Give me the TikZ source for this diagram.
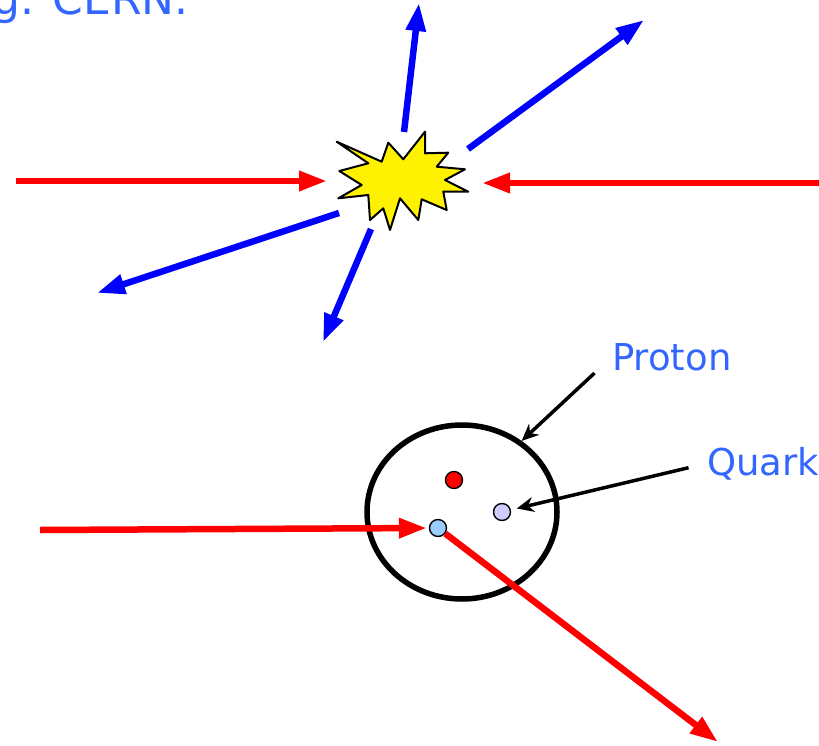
\documentclass[tikz,border=0pt]{standalone}
\usepackage{fontspec}
\newfontfamily\slidefont{DejaVu Sans}
\usetikzlibrary{arrows.meta,shapes.geometric}
\definecolor{slideblue}{RGB}{51,102,255}
\definecolor{quarklilac}{RGB}{204,204,255}
\definecolor{quarkblue}{RGB}{153,204,255}
\begin{document}
\begin{tikzpicture}[x=1pt, y=-1pt, line join=round,
		beam/.style={red, line width=6.5pt, -{Triangle[length=28pt,width=19pt]}},
		jet/.style={blue, line width=6.5pt, -{Triangle[length=28pt,width=19pt]}},
		pointer/.style={black, line width=3.5pt, -{Stealth[length=17pt,width=15pt]}},
		quark/.style={circle, draw, line width=1.4pt, inner sep=0pt, minimum size=17pt},
		caption/.style={font=\slidefont\fontsize{37}{44}\selectfont, text=slideblue, inner sep=0pt}]
		\useasboundingbox (0,0) rectangle (819,746);
		\clip (0,0) rectangle (819,746);
		\node[caption, font=\slidefont\fontsize{44}{52}\selectfont, anchor=base east] (title) at (189,15) {g. CERN.};
		% collision
		\coordinate (bang) at (403,181);
		\filldraw[fill=yellow, line width=2pt] (336.7,141.7) -- (381.7,161.7) -- (388.3,142.7) -- (403.3,159.3)
			-- (425,131.7) -- (425,153.3) -- (448.3,152.7) -- (436.7,166.7) -- (465,169.3) -- (445,180)
			-- (468.3,191.7) -- (443.3,191.7) -- (446.7,210) -- (421.7,199.3) -- (418.3,220) -- (400,198.3)
			-- (390,230) -- (383.3,208.3) -- (370,220) -- (368.3,195) -- (338.3,198.3) -- (361.7,185)
			-- (339.3,171) -- (368.3,163.3) -- cycle;
		\coordinate (inL) at (16,181);
		\coordinate (inR) at (819,183);
		\draw[beam, shorten >=76pt] (inL) -- (bang |- inL);
		\draw[beam] (inR) -- (482,183);
		\coordinate (j1s) at (404,132); \coordinate (j1e) at (419,3);
		\coordinate (j2s) at (468,149); \coordinate (j2e) at (644,20);
		\coordinate (j3s) at (339,213); \coordinate (j3e) at (97,293);
		\coordinate (j4s) at (371,229); \coordinate (j4e) at (323,342);
		\draw[jet] (j1s) -- (j1e);
		\draw[jet] (j2s) -- (j2e);
		\draw[jet] (j3s) -- (j3e);
		\draw[jet] (j4s) -- (j4e);
		% proton
		\node[ellipse, draw, line width=5.5pt, minimum width=190pt, minimum height=174pt] (proton) at (462,512) {};
		\node[quark, fill=red] (qa) at (454,480) {};
		\node[quark, fill=quarklilac] (qc) at (502,512) {};
		\node[quark, fill=quarkblue] (qb) at (438,528) {};
		\coordinate (inB) at (40,530);
		\coordinate (outB) at (718,742);
		\draw[beam, shorten >=2pt] (inB) -- (qb.west);
		\draw[beam] (qb) -- (outB);
		\node[caption, anchor=base west] (protonlbl) at (612,370) {Proton};
		\node[caption, anchor=base west] (quarklbl) at (707,475) {Quark};
		\draw[pointer, shorten <=24pt] (protonlbl.west) -- (proton.50);
		\draw[pointer, shorten <=19pt, shorten >=6pt] (quarklbl.west) -- (qc);
	\end{tikzpicture}
\end{document}
